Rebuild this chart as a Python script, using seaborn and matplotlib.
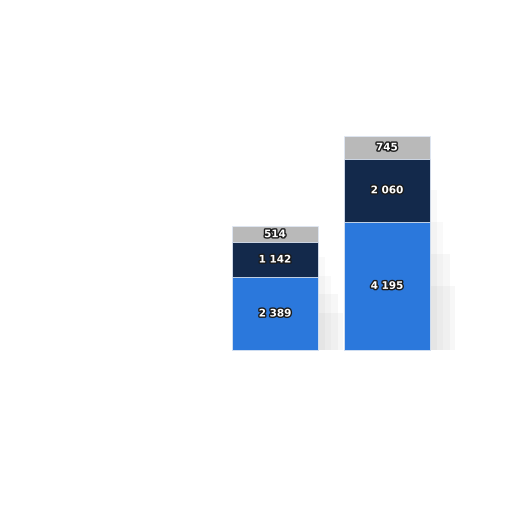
import numpy as np
import pandas as pd
import matplotlib
matplotlib.use("Agg")
import matplotlib.pyplot as plt
import matplotlib.patheffects as pe
import seaborn as sns

# data
categories = ["A", "B"]
bottom_vals = [2389, 4195]
middle_vals = [1142, 2060]
top_vals = [514, 745]

colors = ["#2b78dc", "#13294b", "#b9b9b9"]

sns.set_theme(style="white")
plt.rcParams['font.family'] = ['DejaVu Sans']

fig = plt.figure(figsize=(5.12, 5.12), dpi=100)
ax = fig.add_axes([0, 0, 1, 1])

layers = [bottom_vals, middle_vals, top_vals]
cum = np.cumsum(np.array(layers), axis=0)

# soft shadow to the right of the bars (tapered, fading upward)
shadow_steps = [(0.75, 0.06, 0.04), (0.6, 0.12, 0.04), (0.45, 0.18, 0.05), (0.3, 0.22, 0.05)]
for frac, dx, a in shadow_steps:
    n0 = len(ax.patches)
    df_s = pd.DataFrame({"cat": categories, "val": cum[-1] * frac})
    sns.barplot(data=df_s, x="cat", y="val", color="#707070", width=0.768,
                ax=ax, alpha=a, saturation=1)
    for p in ax.patches[n0:]:
        p.set_x(p.get_x() + dx)
        p.set_edgecolor("none")

# stacked bars, drawn from top cumulative layer down
for i in range(len(layers) - 1, -1, -1):
    df = pd.DataFrame({"cat": categories, "val": cum[i]})
    sns.barplot(data=df, x="cat", y="val", color=colors[i], width=0.768,
                ax=ax, saturation=1, edgecolor="#dfe8f5", linewidth=0.6)

# labels
for i, vals in enumerate(layers):
    for j, v in enumerate(vals):
        y = cum[i][j] - v / 2
        ax.text(j, y, f"{v:,}".replace(",", " "), ha="center", va="center",
                color="white", fontsize=7.5, fontweight="bold",
                path_effects=[pe.withStroke(linewidth=2, foreground="#1a1a1a")])

ax.set_xlim(-275 / 112, (512 - 275) / 112)
ax.set_ylim(-162 / 214 * 7000, 350 / 214 * 7000)
ax.axis("off")

fig.savefig("out.png", dpi=100, facecolor="white")
